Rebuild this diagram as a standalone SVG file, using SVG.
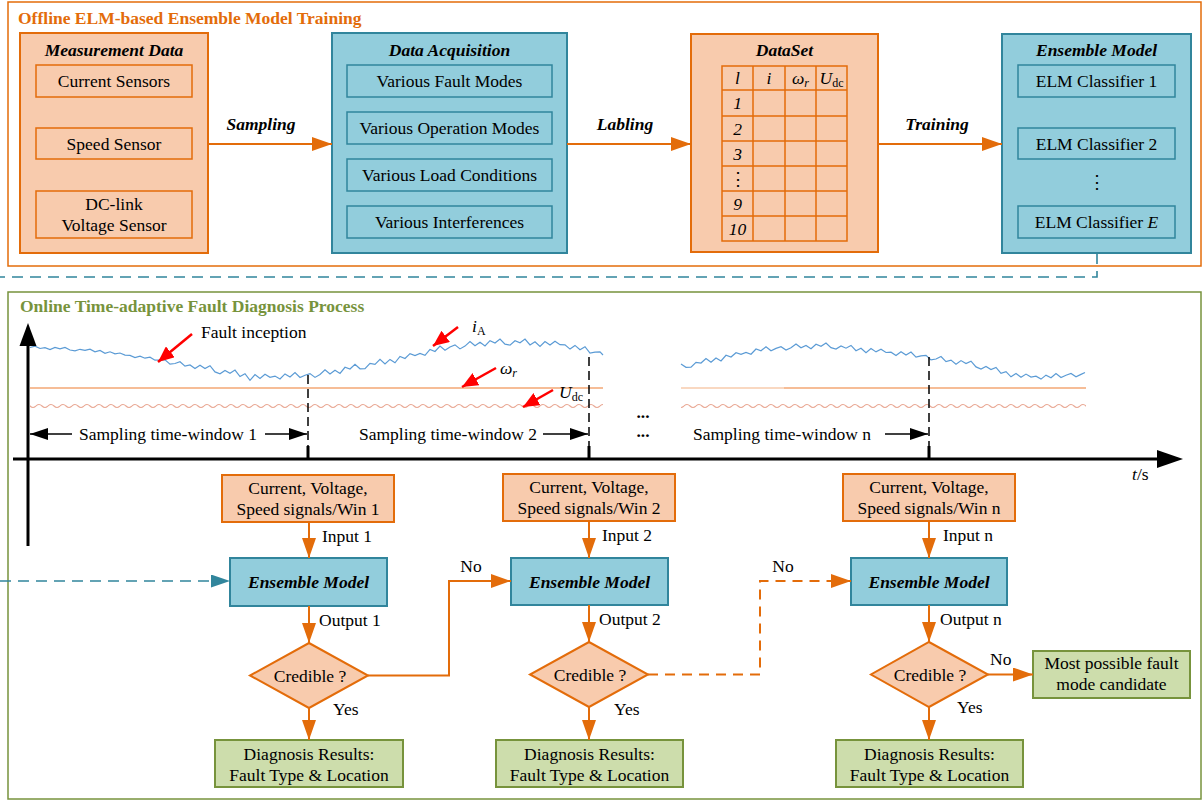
<svg xmlns="http://www.w3.org/2000/svg" width="1203" height="802" viewBox="0 0 1203 802">
<style>
  .t{font-family:"Liberation Serif","Times New Roman","DejaVu Serif",serif;font-size:17.5px;fill:#000}
  .c{text-anchor:middle}
  .b{font-weight:bold}
  .bi{font-weight:bold;font-style:italic}
  .it{font-style:italic}
  .org{fill:#F8CBAD;stroke:#E36C0A;stroke-width:2}
  .orgIn{fill:#F8CBAD;stroke:#E36C0A;stroke-width:1.5}
  .teal{fill:#92CDDC;stroke:#31859C;stroke-width:2}
  .tealIn{fill:#92CDDC;stroke:#31859C;stroke-width:1.5}
  .grn{fill:#CDDDAC;stroke:#77933C;stroke-width:2}
  .flow{fill:none;stroke:#E36C0A;stroke-width:2}
  .dashO{fill:none;stroke:#E36C0A;stroke-width:2;stroke-dasharray:10 7}
  .dashT{fill:none;stroke:#31859C;stroke-width:1.6;stroke-dasharray:11 7}
  .vdash{fill:none;stroke:#000;stroke-width:1.5;stroke-dasharray:9 5}
  .axis{stroke:#000;stroke-width:3;fill:none}
  .win{stroke:#000;stroke-width:1.5;fill:none}
  .red{stroke:#FF0000;stroke-width:2.5;fill:none}
  .grid{fill:none;stroke:#E36C0A;stroke-width:1.5}
</style>
<defs>
  <marker id="ah" markerUnits="userSpaceOnUse" markerWidth="20" markerHeight="14" refX="20" refY="7" orient="auto">
    <path d="M0,0L20,7L0,14z" fill="#E36C0A"/>
  </marker>
  <marker id="ahT" markerUnits="userSpaceOnUse" markerWidth="19" markerHeight="13" refX="19" refY="6.5" orient="auto">
    <path d="M0,0L19,6.5L0,13z" fill="#31859C"/>
  </marker>
  <marker id="ahK" markerUnits="userSpaceOnUse" markerWidth="18" markerHeight="12" refX="18" refY="6" orient="auto">
    <path d="M0,0L18,6L0,12z" fill="#000"/>
  </marker>
  <marker id="ahR" markerUnits="userSpaceOnUse" markerWidth="16" markerHeight="14" refX="16" refY="7" orient="auto">
    <path d="M0,0L16,7L0,14z" fill="#FF0000"/>
  </marker>
  <!-- ripple of the DC-link voltage trace -->
  <pattern id="ripple" patternUnits="userSpaceOnUse" x="0" y="400" width="12" height="12">
    <path d="M0,6 Q3,3 6,6 T12,6" fill="none" stroke="#E9A894" stroke-width="1.1"/>
  </pattern>
</defs>

<rect width="1203" height="802" fill="#fff"/>

<!-- ===== Offline training frame ===== -->
<g id="offline-frame">
  <rect x="8" y="2" width="1193" height="264" fill="none" stroke="#E36C0A" stroke-width="1.5"/>
  <text class="t b" x="18" y="23.5" style="fill:#E36C0A">Offline ELM-based Ensemble Model Training</text>
</g>

<g id="measurement-data">
  <rect class="org" x="20" y="33" width="188" height="220"/>
  <text class="t bi c" x="114" y="55.5">Measurement Data</text>
  <rect class="orgIn" x="36" y="65" width="156" height="32"/>
  <text class="t c" x="114" y="87">Current Sensors</text>
  <rect class="orgIn" x="36" y="128" width="156" height="31"/>
  <text class="t c" x="114" y="149.5">Speed Sensor</text>
  <rect class="orgIn" x="36" y="191" width="156" height="47"/>
  <text class="t c" x="114" y="209.5">DC-link</text>
  <text class="t c" x="114" y="230.5">Voltage Sensor</text>
</g>

<g id="data-acquisition">
  <rect class="teal" x="332" y="33" width="235" height="220"/>
  <text class="t bi c" x="449.5" y="55.5">Data Acquisition</text>
  <rect class="tealIn" x="347" y="65" width="205" height="32"/>
  <text class="t c" x="449.5" y="87">Various Fault Modes</text>
  <rect class="tealIn" x="347" y="112" width="205" height="32"/>
  <text class="t c" x="449.5" y="134">Various Operation Modes</text>
  <rect class="tealIn" x="347" y="159" width="205" height="32"/>
  <text class="t c" x="449.5" y="181">Various Load Conditions</text>
  <rect class="tealIn" x="347" y="206" width="205" height="32"/>
  <text class="t c" x="449.5" y="228">Various Interferences</text>
</g>

<g id="dataset">
  <rect class="org" x="691" y="34" width="187" height="218"/>
  <text class="t bi c" x="784.5" y="55.5">DataSet</text>
  <rect class="grid" x="722" y="66" width="125" height="175"/>
  <path class="grid" d="M753,66V241M785,66V241M816,66V241M722,90H847M722,116H847M722,141H847M722,166H847M722,191H847M722,216H847"/>
  <text class="t it c" x="737.5" y="84">l</text>
  <text class="t it c" x="769" y="84">i</text>
  <text class="t c" x="800.5" y="84"><tspan class="it">ω</tspan><tspan class="it" font-size="12" dy="3">r</tspan></text>
  <text class="t c" x="831.5" y="84"><tspan class="it">U</tspan><tspan font-size="12" dy="3">dc</tspan></text>
  <text class="t it c" x="737.5" y="109">1</text>
  <text class="t it c" x="737.5" y="134.5">2</text>
  <text class="t it c" x="737.5" y="159.5">3</text>
  <text class="t c" x="737.5" y="184.5">⋮</text>
  <text class="t it c" x="737.5" y="209.5">9</text>
  <text class="t it c" x="737.5" y="234.5">10</text>
</g>

<g id="ensemble-model">
  <rect class="teal" x="1002" y="34" width="189" height="219"/>
  <text class="t bi c" x="1096.5" y="55.5">Ensemble Model</text>
  <rect class="tealIn" x="1018" y="65" width="157" height="32"/>
  <text class="t c" x="1096.5" y="87">ELM Classifier 1</text>
  <rect class="tealIn" x="1018" y="128" width="157" height="31"/>
  <text class="t c" x="1096.5" y="149.5">ELM Classifier 2</text>
  <text class="t c" x="1096.5" y="188">⋮</text>
  <rect class="tealIn" x="1018" y="206" width="157" height="32"/>
  <text class="t c" x="1096.5" y="228">ELM Classifier <tspan class="it">E</tspan></text>
</g>

<!-- ===== Online diagnosis frame ===== -->
<g id="online-frame">
  <rect x="8" y="292" width="1193" height="507" fill="none" stroke="#77933C" stroke-width="1.5"/>
  <text class="t b" x="20" y="312" style="fill:#77933C">Online Time-adaptive Fault Diagnosis Process</text>
</g>

<!-- signal traces -->
<g id="signals">
  <polyline fill="none" stroke="#5B9BD5" stroke-width="1.2" points="30,347.5 35,346.1 40,348.5 45,347.6 50,349.5 55,347.5 60,348.9 65,347.5 70,350 75,350.8 80,349.3 85,350.4 90,349.1 95,351.8 100,350.5 105,353.3 110,351.8 115,353.9 120,353 125,355.1 130,355.4 135,357.5 140,356.1 145,358.2 150,357.2 155,360.2 160,360 165,359.9 170,364.1 175,363.5 180,361.7 185,366.1 190,365 195,368.6 200,365.2 205,368.6 210,365.7 215,371.9 220,373.8 225,370.4 230,373.2 235,370.1 240,376.5 245,373.7 250,380.4 255,374.5 260,378.4 265,374.3 270,377.3 275,376.1 280,379 285,373.9 290,376.9 295,372.5 300,377.5 305,375.2 310,373.6 315,377.4 320,374.5 325,369.8 330,373.9 335,370.3 340,373.4 345,367.3 350,369 355,364.3 360,368.8 365,368.7 370,363.4 375,364.4 380,359.4 385,364 390,359.4 395,362.8 400,356.5 405,358.5 410,353.6 415,355.6 420,353.5 425,355.4 430,349.4 435,351.5 440,346.1 445,350.2 450,347 455,344.9 460,348.9 465,346.1 470,341.5 475,345.8 480,342.3 485,346 490,340.7 495,343 500,339 505,344.2 510,345.1 515,340.7 520,342.7 525,339.1 530,345 535,341.7 540,346.5 545,341.5 550,344.9 555,341.3 560,344.7 565,344.9 570,349.1 575,345.4 580,349.7 585,346.7 590,353.1 595,352.2 600,351.9 603,355"/>
  <polyline fill="none" stroke="#5B9BD5" stroke-width="1.2" points="681,364 686,367.3 691,367.1 696,362.3 701,363 706,358.5 711,362.2 716,358 721,360.9 726,355.3 731,357 736,352.7 741,354.4 746,352.5 751,354.2 756,349 761,350.8 766,346.7 771,350.7 776,348.4 781,346.7 786,350.1 791,347.8 796,344 801,347.8 806,345.4 811,348.7 816,344.2 821,346.3 826,343 831,347.6 836,349 841,345.9 846,348.2 851,345.4 856,350.7 861,348.2 866,352.6 871,348.6 876,351.9 881,349.2 886,352.5 891,352.2 896,355.4 901,351.8 906,355.1 911,352.1 916,357.2 921,355.9 926,355.3 931,359.9 936,359 941,356.5 946,361.6 951,360.1 956,364.3 961,360.6 966,363.6 971,361.2 976,366.9 981,369 986,366.5 991,369.5 996,367.4 1001,373.4 1006,371.6 1011,376.8 1016,373.5 1021,377.2 1026,374.1 1031,377 1036,376.2 1041,379.1 1046,375.1 1051,377.8 1056,373.6 1061,377.5 1066,375.2 1071,373.4 1076,376.7 1081,374.4 1085,372.5"/>
  <line x1="30" y1="388" x2="603" y2="388" stroke="#ED7D31" stroke-width="1.2"/>
  <line x1="681" y1="388" x2="784" y2="388" stroke="#F4B183" stroke-width="1.2"/>
  <line x1="784" y1="388" x2="1086" y2="388" stroke="#ED7D31" stroke-width="1.2"/>
  <rect x="30" y="400" width="573" height="12" fill="url(#ripple)"/>
  <rect x="681" y="400" width="405" height="12" fill="url(#ripple)"/>
</g>

<!-- signal annotations -->
<g id="annotations">
  <line class="red" x1="192" y1="334" x2="158" y2="362" marker-end="url(#ahR)"/>
  <text class="t" x="201" y="338">Fault inception</text>
  <line class="red" x1="458" y1="327" x2="433" y2="346" marker-end="url(#ahR)"/>
  <text class="t" x="472" y="332"><tspan class="it">i</tspan><tspan font-size="12" dy="3">A</tspan></text>
  <line class="red" x1="496" y1="368" x2="462" y2="387" marker-end="url(#ahR)"/>
  <text class="t" x="500" y="374"><tspan class="it">ω</tspan><tspan class="it" font-size="12" dy="3">r</tspan></text>
  <line class="red" x1="553" y1="390" x2="523" y2="407" marker-end="url(#ahR)"/>
  <text class="t" x="559" y="398"><tspan class="it">U</tspan><tspan font-size="12" dy="3">dc</tspan></text>
</g>

<!-- time axes and sampling windows -->
<g id="time-axes">
  <line class="axis" x1="28" y1="546" x2="28" y2="342"/>
  <path d="M28,323L19.5,346H36.5z" fill="#000"/>
  <line class="axis" x1="13" y1="459" x2="1160" y2="459"/>
  <path d="M1183,459L1157,450V468z" fill="#000"/>
  <text class="t" x="1132" y="480"><tspan class="it">t</tspan>/s</text>
  <line class="vdash" x1="308" y1="375" x2="308" y2="447"/>
  <line class="vdash" x1="589" y1="357" x2="589" y2="447"/>
  <line class="vdash" x1="929" y1="357" x2="929" y2="447"/>
  <path d="M308,446V459M589,446V459M929,446V459" stroke="#000" stroke-width="3"/>
  <line class="win" x1="72" y1="434" x2="30" y2="434" marker-end="url(#ahK)"/>
  <text class="t" x="79" y="440">Sampling time-window 1</text>
  <line class="win" x1="265" y1="434" x2="307" y2="434" marker-end="url(#ahK)"/>
  <text class="t" x="359" y="440">Sampling time-window 2</text>
  <line class="win" x1="543" y1="434" x2="588" y2="434" marker-end="url(#ahK)"/>
  <text class="t b c" x="643" y="418" font-size="12">...</text>
  <text class="t b c" x="643" y="437" font-size="12">...</text>
  <text class="t" x="693" y="440">Sampling time-window n</text>
  <line class="win" x1="885" y1="434" x2="928" y2="434" marker-end="url(#ahK)"/>
</g>

<!-- ===== window 1 flow ===== -->
<g id="win1-signals">
  <rect class="org" x="222" y="475" width="172" height="47"/>
  <text class="t c" x="308" y="493.5">Current, Voltage,</text>
  <text class="t c" x="308" y="514.5">Speed signals/Win 1</text>
</g>
<g id="win1-model">
  <rect class="teal" x="230" y="558" width="157" height="48"/>
  <text class="t bi c" x="308.5" y="587.5">Ensemble Model</text>
</g>
<g id="win1-check">
  <path class="org" d="M309,643L368,675.5L309,708L250,675.5z"/>
  <text class="t c" x="310" y="681.5">Credible ?</text>
</g>
<g id="win1-result">
  <rect class="grn" x="215" y="740" width="188" height="47"/>
  <text class="t c" x="309" y="759.5">Diagnosis Results:</text>
  <text class="t c" x="309" y="780.5">Fault Type &amp; Location</text>
</g>

<!-- ===== window 2 flow ===== -->
<g id="win2-signals">
  <rect class="org" x="503" y="474" width="172" height="47"/>
  <text class="t c" x="589" y="492.5">Current, Voltage,</text>
  <text class="t c" x="589" y="513.5">Speed signals/Win 2</text>
</g>
<g id="win2-model">
  <rect class="teal" x="511" y="558" width="157" height="47"/>
  <text class="t bi c" x="589.5" y="587.5">Ensemble Model</text>
</g>
<g id="win2-check">
  <path class="org" d="M589,642L648,674.5L589,707L530,674.5z"/>
  <text class="t c" x="590" y="680.5">Credible ?</text>
</g>
<g id="win2-result">
  <rect class="grn" x="496" y="740" width="187" height="47"/>
  <text class="t c" x="589.5" y="759.5">Diagnosis Results:</text>
  <text class="t c" x="589.5" y="780.5">Fault Type &amp; Location</text>
</g>

<!-- ===== window n flow ===== -->
<g id="winn-signals">
  <rect class="org" x="843" y="474" width="172" height="47"/>
  <text class="t c" x="929" y="492.5">Current, Voltage,</text>
  <text class="t c" x="929" y="513.5">Speed signals/Win n</text>
</g>
<g id="winn-model">
  <rect class="teal" x="851" y="558" width="156" height="47"/>
  <text class="t bi c" x="929" y="587.5">Ensemble Model</text>
</g>
<g id="winn-check">
  <path class="org" d="M929,642L988,674.5L929,707L871,674.5z"/>
  <text class="t c" x="930" y="680.5">Credible ?</text>
</g>
<g id="winn-result">
  <rect class="grn" x="836" y="740" width="187" height="47"/>
  <text class="t c" x="929.5" y="759.5">Diagnosis Results:</text>
  <text class="t c" x="929.5" y="780.5">Fault Type &amp; Location</text>
</g>
<g id="fallback-candidate">
  <rect class="grn" x="1033" y="651" width="157" height="47"/>
  <text class="t c" x="1111.5" y="668.5">Most possible fault</text>
  <text class="t c" x="1111.5" y="689.5">mode candidate</text>
</g>

<!-- ===== connectors ===== -->
<g id="connectors">
  <line class="flow" x1="208" y1="144" x2="332" y2="144" marker-end="url(#ah)"/>
  <text class="t bi c" x="261" y="130">Sampling</text>
  <line class="flow" x1="567" y1="144" x2="691" y2="144" marker-end="url(#ah)"/>
  <text class="t bi c" x="625" y="130">Labling</text>
  <line class="flow" x1="878" y1="144" x2="1002" y2="144" marker-end="url(#ah)"/>
  <text class="t bi c" x="937" y="130">Training</text>

  <path class="dashT" d="M1097,253V277H0"/>
  <line class="dashT" x1="0" y1="581" x2="230" y2="581" marker-end="url(#ahT)"/>

  <line class="flow" x1="309" y1="522" x2="309" y2="558" marker-end="url(#ah)"/>
  <text class="t" x="322" y="542">Input 1</text>
  <line class="flow" x1="309" y1="606" x2="309" y2="643" marker-end="url(#ah)"/>
  <text class="t" x="319" y="626">Output 1</text>
  <line class="flow" x1="309" y1="708" x2="309" y2="740" marker-end="url(#ah)"/>
  <text class="t" x="333" y="715">Yes</text>
  <path class="flow" d="M368,675.5H449V581H511" marker-end="url(#ah)"/>
  <text class="t c" x="471" y="572">No</text>

  <line class="flow" x1="589" y1="521" x2="589" y2="558" marker-end="url(#ah)"/>
  <text class="t" x="602" y="541">Input 2</text>
  <line class="flow" x1="589" y1="605" x2="589" y2="642" marker-end="url(#ah)"/>
  <text class="t" x="599" y="625">Output 2</text>
  <line class="flow" x1="589" y1="707" x2="589" y2="740" marker-end="url(#ah)"/>
  <text class="t" x="614" y="715">Yes</text>
  <path class="dashO" d="M648,674.5H760V581H851" marker-end="url(#ah)"/>
  <text class="t c" x="783" y="572">No</text>

  <line class="flow" x1="929" y1="521" x2="929" y2="558" marker-end="url(#ah)"/>
  <text class="t" x="943" y="541">Input n</text>
  <line class="flow" x1="929" y1="605" x2="929" y2="642" marker-end="url(#ah)"/>
  <text class="t" x="940" y="625">Output n</text>
  <line class="flow" x1="929" y1="707" x2="929" y2="740" marker-end="url(#ah)"/>
  <text class="t" x="957" y="713">Yes</text>
  <line class="flow" x1="988" y1="674.5" x2="1033" y2="674.5" marker-end="url(#ah)"/>
  <text class="t" x="990" y="665">No</text>
</g>
</svg>
